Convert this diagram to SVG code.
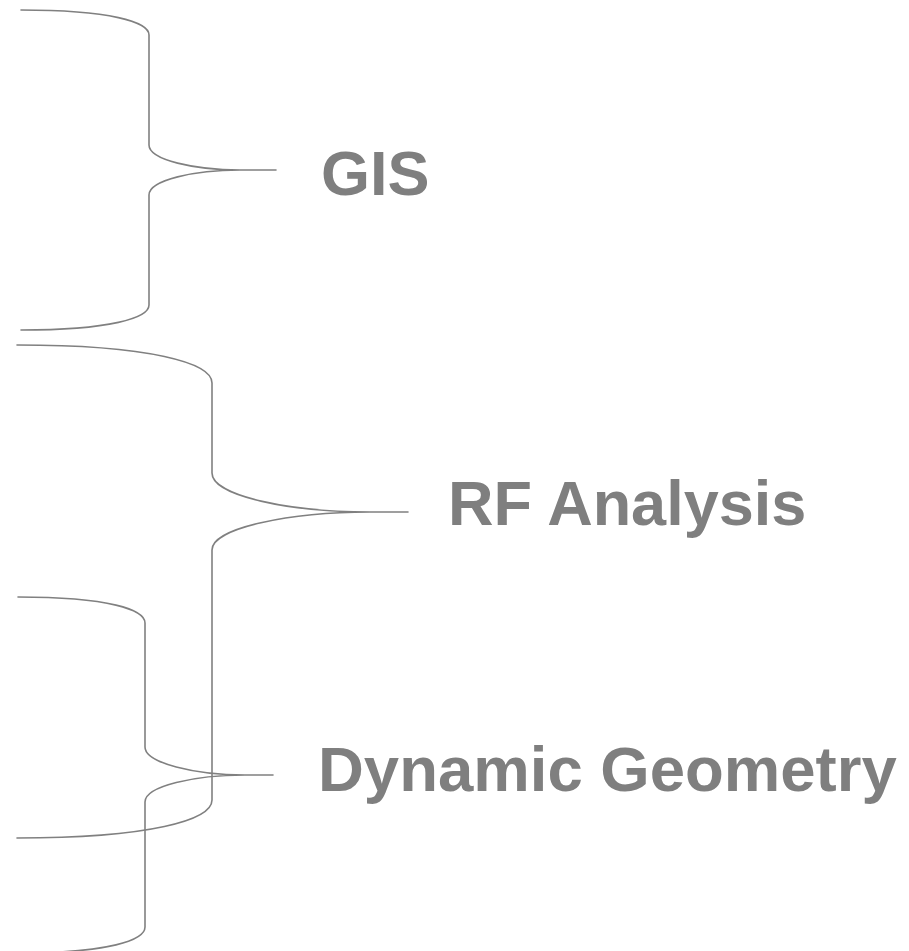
<svg xmlns="http://www.w3.org/2000/svg" width="909" height="951" viewBox="0 0 909 951">
  <style>
    .brace { fill: none; stroke: #808080; stroke-width: 1.6; stroke-linecap: round; }
    .label { font-family: "Liberation Sans", Arial, sans-serif; font-weight: bold; font-size: 63px; fill: #7f7f7f; }
  </style>
  <rect width="909" height="951" fill="#ffffff"/>
  <g id="connectors">
    <!-- brace for GIS -->
    <path class="brace" d="M21,10 C110,10 149,22 149,35 L149,145 C149,160 195,170 240,170 L276,170 M240,170 C195,170 149,180 149,195 L149,305 C149,318 110,330 21,330"/>
    <!-- brace for RF Analysis -->
    <path class="brace" d="M17,345 C150,345 212,363 212,383 L212,473 C212,496 290,512 370,512 L408,512 M370,512 C290,512 212,528 212,550 L212,800 C212,820 150,838 17,838"/>
    <!-- brace for Dynamic Geometry -->
    <path class="brace" d="M18,597 C110,597 145,610 145,623 L145,747 C145,763 195,775 245,775 L273,775 M245,775 C195,775 145,786 145,802 L145,927 C145,940 110,953 18,953"/>
  </g>
  <g id="node-gis">
    <text class="label" x="321" y="195">GIS</text>
  </g>
  <g id="node-rf-analysis">
    <text class="label" x="448" y="525">RF Analysis</text>
  </g>
  <g id="node-dynamic-geometry">
    <text class="label" x="318" y="791" style="font-size:63.5px">Dynamic Geometry</text>
  </g>
</svg>
